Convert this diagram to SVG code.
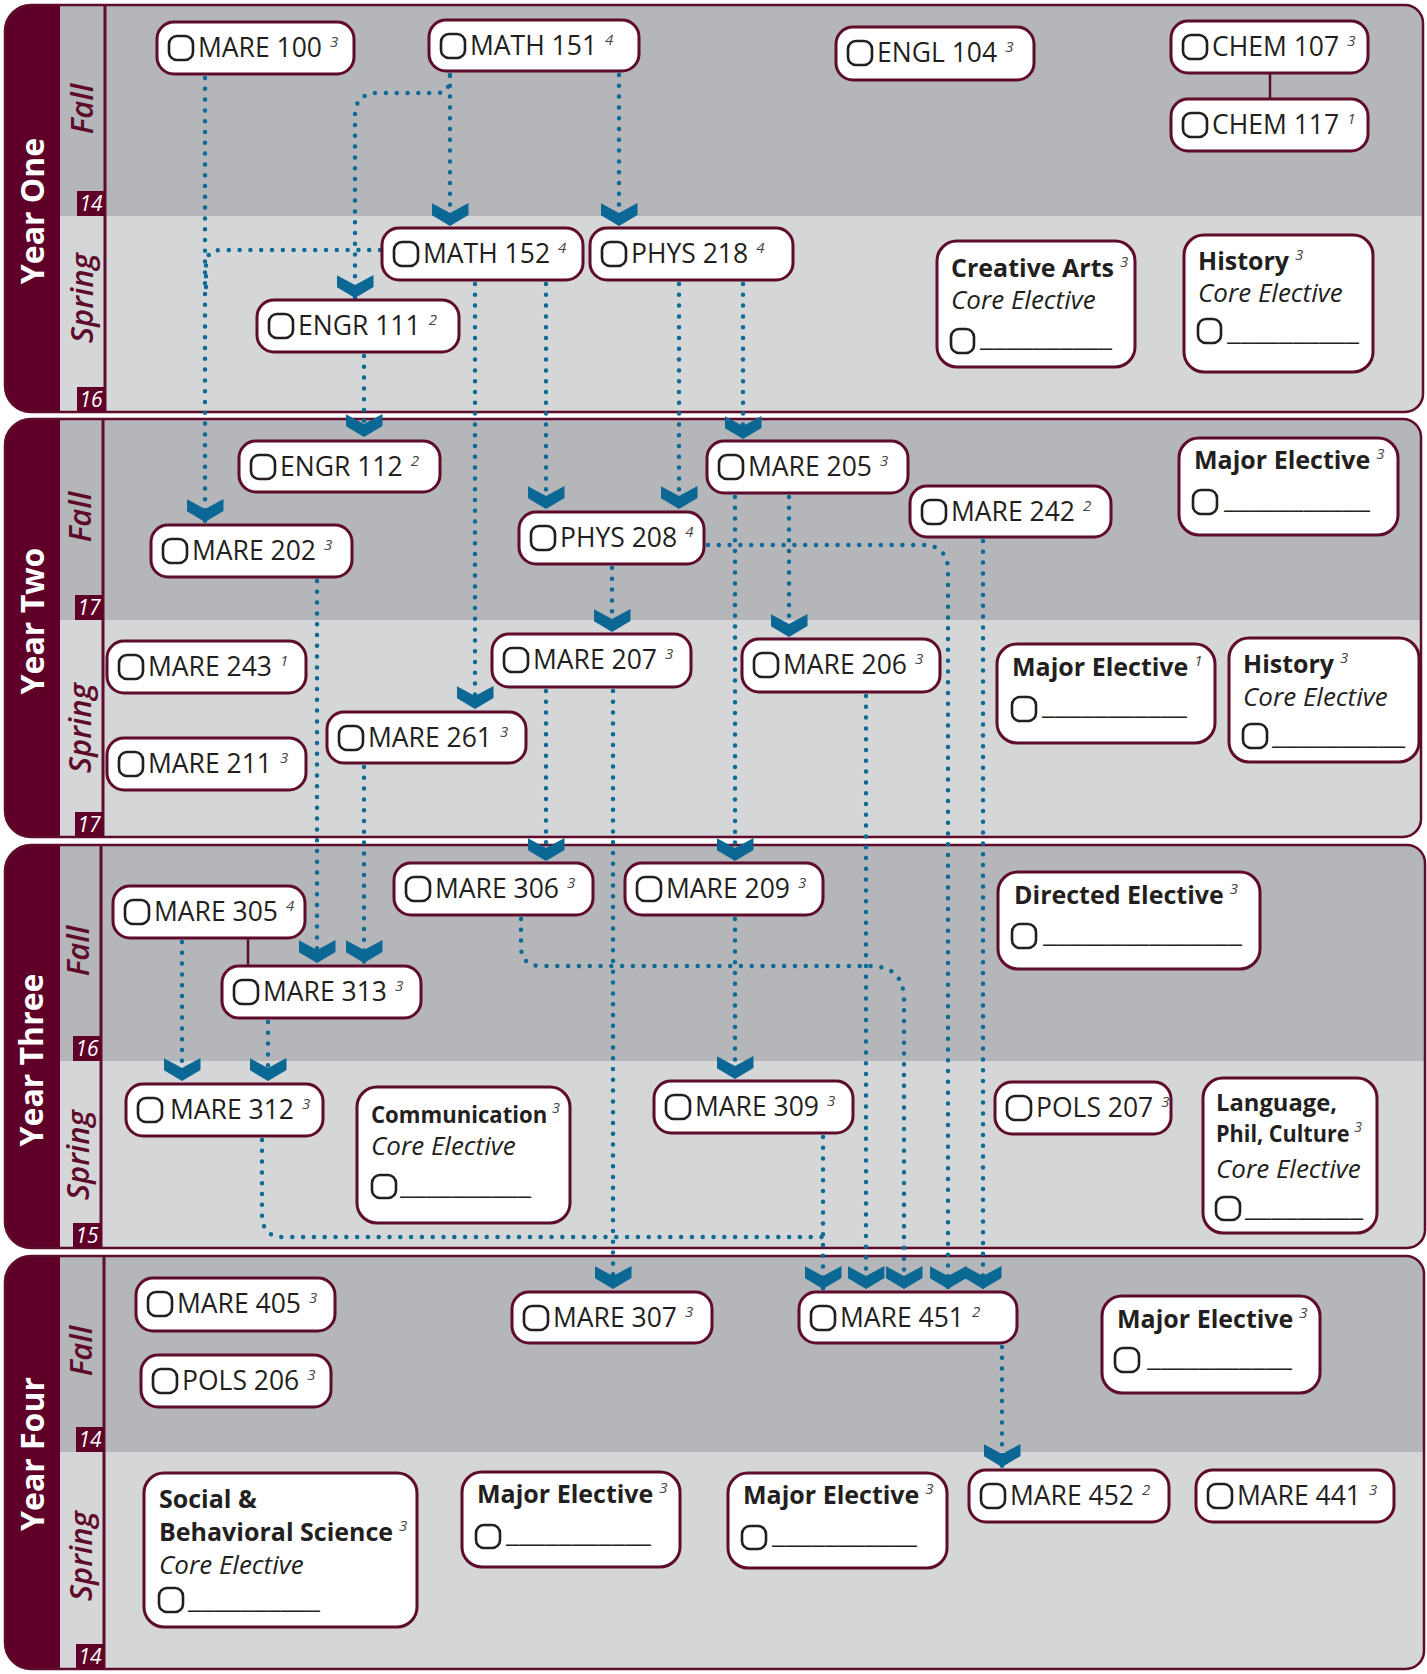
<svg xmlns="http://www.w3.org/2000/svg" width="1427" height="1674" viewBox="0 0 1427 1674">
<defs>
<style>
text{font-family:"Open Sans","Noto Sans","DejaVu Sans",sans-serif;fill:#231f20}
.fall{fill:#b5b6ba}
.spring{fill:#d5d6d8}
.band{fill:#5e0027}
.outline{fill:none;stroke:#5f0b2b;stroke-width:2.5}
.divider{fill:none;stroke:#5f0b2b;stroke-width:3}
.year{font-size:32px;font-weight:bold;fill:#fff}
.season{font-size:31px;font-weight:600;font-style:italic;fill:#5e0a2a}
.crbox{fill:#5e0027}
.cr{font-size:21px;font-style:italic;fill:#fff}
.box{fill:#fff;stroke:#5f0b2b;stroke-width:3}
.chk{fill:none;stroke:#231f20;stroke-width:2.6}
.lbl{font-size:26.5px}
.sup{font-size:15px;font-style:italic;font-weight:normal;fill:#444}
.ttl{font-size:25px;font-weight:bold}
.cnd{font-size:23px;font-weight:bold}
.core{font-size:26px;font-style:italic}
.ul{font-size:26px}
.dot{fill:none;stroke:#0d6a95;stroke-width:4.5;stroke-linecap:round;stroke-dasharray:0 10.8}
.arr{marker-end:url(#chev)}
.solid{fill:none;stroke:#5f0b2b;stroke-width:2.5}
</style>
<marker id="chev" markerUnits="userSpaceOnUse" markerWidth="23" markerHeight="37" viewBox="0 0 23 37" refX="23" refY="18.5" orient="auto">
<path d="M0,0 L10,18.5 L0,37 L12,37 L23,18.5 L12,0 Z" fill="#0b6794"/>
</marker>
</defs>

<g id="panels">
<g id="year-one">
<path class="fall" d="M60,5 H1405 A18 18 0 0 1 1423,23 V216 H60 Z"/>
<path class="spring" d="M60,216 H1423 V394 A18 18 0 0 1 1405,412 H60 Z"/>
<path class="band" d="M31,5 H60 V412 H31 A26 26 0 0 1 5,386 V31 A26 26 0 0 1 31,5 Z"/>
<path class="outline" d="M31,5 H1405 A18 18 0 0 1 1423,23 V394 A18 18 0 0 1 1405,412 H31 A26 26 0 0 1 5,386 V31 A26 26 0 0 1 31,5 Z"/>
<path class="divider" d="M105,5 V412"/>
<text class="year" x="44" y="211" text-anchor="middle" transform="rotate(-90 44 211)">Year One</text>
<text class="season" x="93" y="109" text-anchor="middle" transform="rotate(-90 93 109)">Fall</text>
<text class="season" x="93" y="298" text-anchor="middle" transform="rotate(-90 93 298)">Spring</text>
<rect class="crbox" x="77" y="191" width="28" height="25"/>
<text class="cr" x="91" y="211" text-anchor="middle">14</text>
<rect class="crbox" x="77" y="387" width="28" height="25"/>
<text class="cr" x="91" y="407" text-anchor="middle">16</text>
</g>
<g id="year-two">
<path class="fall" d="M60,419 H1403 A18 18 0 0 1 1421,437 V620 H60 Z"/>
<path class="spring" d="M60,620 H1421 V819 A18 18 0 0 1 1403,837 H60 Z"/>
<path class="band" d="M31,419 H60 V837 H31 A26 26 0 0 1 5,811 V445 A26 26 0 0 1 31,419 Z"/>
<path class="outline" d="M31,419 H1403 A18 18 0 0 1 1421,437 V819 A18 18 0 0 1 1403,837 H31 A26 26 0 0 1 5,811 V445 A26 26 0 0 1 31,419 Z"/>
<path class="divider" d="M103,419 V837"/>
<text class="year" x="44" y="621" text-anchor="middle" transform="rotate(-90 44 621)">Year Two</text>
<text class="season" x="91" y="517" text-anchor="middle" transform="rotate(-90 91 517)">Fall</text>
<text class="season" x="91" y="728" text-anchor="middle" transform="rotate(-90 91 728)">Spring</text>
<rect class="crbox" x="75" y="595" width="28" height="25"/>
<text class="cr" x="89" y="615" text-anchor="middle">17</text>
<rect class="crbox" x="75" y="812" width="28" height="25"/>
<text class="cr" x="89" y="832" text-anchor="middle">17</text>
</g>
<g id="year-three">
<path class="fall" d="M60,845 H1407 A18 18 0 0 1 1425,863 V1061 H60 Z"/>
<path class="spring" d="M60,1061 H1425 V1230 A18 18 0 0 1 1407,1248 H60 Z"/>
<path class="band" d="M31,845 H60 V1248 H31 A26 26 0 0 1 5,1222 V871 A26 26 0 0 1 31,845 Z"/>
<path class="outline" d="M31,845 H1407 A18 18 0 0 1 1425,863 V1230 A18 18 0 0 1 1407,1248 H31 A26 26 0 0 1 5,1222 V871 A26 26 0 0 1 31,845 Z"/>
<path class="divider" d="M101,845 V1248"/>
<text class="year" x="43" y="1060" text-anchor="middle" transform="rotate(-90 43 1060)">Year Three</text>
<text class="season" x="89" y="951" text-anchor="middle" transform="rotate(-90 89 951)">Fall</text>
<text class="season" x="89" y="1155" text-anchor="middle" transform="rotate(-90 89 1155)">Spring</text>
<rect class="crbox" x="73" y="1036" width="28" height="25"/>
<text class="cr" x="87" y="1056" text-anchor="middle">16</text>
<rect class="crbox" x="73" y="1223" width="28" height="25"/>
<text class="cr" x="87" y="1243" text-anchor="middle">15</text>
</g>
<g id="year-four">
<path class="fall" d="M60,1256 H1406 A18 18 0 0 1 1424,1274 V1452 H60 Z"/>
<path class="spring" d="M60,1452 H1424 V1651 A18 18 0 0 1 1406,1669 H60 Z"/>
<path class="band" d="M31,1256 H60 V1669 H31 A26 26 0 0 1 5,1643 V1282 A26 26 0 0 1 31,1256 Z"/>
<path class="outline" d="M31,1256 H1406 A18 18 0 0 1 1424,1274 V1651 A18 18 0 0 1 1406,1669 H31 A26 26 0 0 1 5,1643 V1282 A26 26 0 0 1 31,1256 Z"/>
<path class="divider" d="M104,1256 V1669"/>
<text class="year" x="44" y="1454" text-anchor="middle" transform="rotate(-90 44 1454)">Year Four</text>
<text class="season" x="92" y="1351" text-anchor="middle" transform="rotate(-90 92 1351)">Fall</text>
<text class="season" x="92" y="1556" text-anchor="middle" transform="rotate(-90 92 1556)">Spring</text>
<rect class="crbox" x="76" y="1427" width="28" height="25"/>
<text class="cr" x="90" y="1447" text-anchor="middle">14</text>
<rect class="crbox" x="76" y="1644" width="28" height="25"/>
<text class="cr" x="90" y="1664" text-anchor="middle">14</text>
</g>
</g>

<g id="connectors">
<path class="dot arr" d="M205,78 V522"/>
<path class="dot arr" d="M450,75 V226"/>
<path class="dot arr" d="M450,76 Q450,93 438,93 H378 Q355,93 355,116 V298"/>
<path class="dot arr" d="M619,75 V226"/>
<path class="dot" d="M380,250 H221 Q206,250 206,265 V290"/>
<path class="dot arr" d="M364,356 V437"/>
<path class="dot arr" d="M475,284 V709"/>
<path class="dot arr" d="M546,284 V509"/>
<path class="dot arr" d="M679,284 V509"/>
<path class="dot arr" d="M743,284 V439"/>
<path class="dot arr" d="M317,581 V963"/>
<path class="dot arr" d="M612,568 V632"/>
<path class="dot arr" d="M789,497 V637"/>
<path class="dot arr" d="M708,545 H922 Q948,545 948,571 V1289"/>
<path class="dot arr" d="M735,497 V861"/>
<path class="dot arr" d="M983,541 V1289"/>
<path class="dot arr" d="M546,691 V861"/>
<path class="dot arr" d="M613,691 V1289"/>
<path class="dot arr" d="M866,696 V1289"/>
<path class="dot arr" d="M364,767 V963"/>
<path class="dot arr" d="M182,942 V1081"/>
<path class="dot arr" d="M268,1022 V1081"/>
<path class="dot arr" d="M521,919 V946 Q521,966 541,966 H870 Q904,966 904,1000 V1289"/>
<path class="dot arr" d="M735,919 V1079"/>
<path class="dot" d="M262,1140 V1215 Q262,1237 284,1237 H823"/>
<path class="dot arr" d="M823,1137 V1289"/>
<path class="dot arr" d="M1002,1347 V1467"/>
<path class="solid" d="M1270,73 V99"/>
<path class="solid" d="M248,938 V966"/>
</g>

<g id="nodes">
<g id="mare100"><rect class="box" x="157" y="22" width="197" height="52" rx="17"/><rect class="chk" x="169" y="36" width="24" height="24" rx="8"/><text class="lbl" x="198" y="57">MARE 100<tspan class="sup" dx="8" dy="-10">3</tspan></text></g>
<g id="math151"><rect class="box" x="429" y="20" width="210" height="51" rx="17"/><rect class="chk" x="441" y="34" width="24" height="24" rx="8"/><text class="lbl" x="470" y="55">MATH 151<tspan class="sup" dx="8" dy="-10">4</tspan></text></g>
<g id="engl104"><rect class="box" x="836" y="27" width="198" height="53" rx="17"/><rect class="chk" x="848" y="41" width="24" height="24" rx="8"/><text class="lbl" x="877" y="62">ENGL 104<tspan class="sup" dx="8" dy="-10">3</tspan></text></g>
<g id="chem107"><rect class="box" x="1171" y="21" width="197" height="52" rx="17"/><rect class="chk" x="1183" y="35" width="24" height="24" rx="8"/><text class="lbl" x="1212" y="56">CHEM 107<tspan class="sup" dx="8" dy="-10">3</tspan></text></g>
<g id="chem117"><rect class="box" x="1171" y="99" width="197" height="52" rx="17"/><rect class="chk" x="1183" y="113" width="24" height="24" rx="8"/><text class="lbl" x="1212" y="134">CHEM 117<tspan class="sup" dx="8" dy="-10">1</tspan></text></g>
<g id="math152"><rect class="box" x="382" y="228" width="201" height="52" rx="17"/><rect class="chk" x="394" y="242" width="24" height="24" rx="8"/><text class="lbl" x="423" y="263">MATH 152<tspan class="sup" dx="8" dy="-10">4</tspan></text></g>
<g id="phys218"><rect class="box" x="590" y="228" width="203" height="52" rx="17"/><rect class="chk" x="602" y="242" width="24" height="24" rx="8"/><text class="lbl" x="631" y="263">PHYS 218<tspan class="sup" dx="8" dy="-10">4</tspan></text></g>
<g id="engr111"><rect class="box" x="257" y="300" width="202" height="52" rx="17"/><rect class="chk" x="269" y="314" width="24" height="24" rx="8"/><text class="lbl" x="298" y="335">ENGR 111<tspan class="sup" dx="8" dy="-10">2</tspan></text></g>
<g id="creative-arts"><rect class="box" x="937" y="241" width="198" height="126" rx="20"/><text class="ttl" x="951" y="277">Creative Arts<tspan class="sup" dx="6" dy="-10">3</tspan></text><text class="core" x="951" y="309">Core Elective</text><rect class="chk" x="951" y="329" width="23" height="24" rx="8"/><text class="ul" x="980" y="346" textLength="132" lengthAdjust="spacingAndGlyphs">__________</text></g>
<g id="history-1"><rect class="box" x="1184" y="235" width="189" height="137" rx="20"/><text class="ttl" x="1198" y="270">History<tspan class="sup" dx="6" dy="-10">3</tspan></text><text class="core" x="1198" y="302">Core Elective</text><rect class="chk" x="1198" y="319" width="23" height="24" rx="8"/><text class="ul" x="1227" y="340" textLength="132" lengthAdjust="spacingAndGlyphs">__________</text></g>

<g id="engr112"><rect class="box" x="239" y="441" width="201" height="51" rx="17"/><rect class="chk" x="251" y="455" width="24" height="24" rx="8"/><text class="lbl" x="280" y="476">ENGR 112<tspan class="sup" dx="8" dy="-10">2</tspan></text></g>
<g id="mare202"><rect class="box" x="151" y="525" width="201" height="52" rx="17"/><rect class="chk" x="163" y="539" width="24" height="24" rx="8"/><text class="lbl" x="192" y="560">MARE 202<tspan class="sup" dx="8" dy="-10">3</tspan></text></g>
<g id="phys208"><rect class="box" x="519" y="512" width="185" height="52" rx="17"/><rect class="chk" x="531" y="526" width="24" height="24" rx="8"/><text class="lbl" x="560" y="547">PHYS 208<tspan class="sup" dx="8" dy="-10">4</tspan></text></g>
<g id="mare205"><rect class="box" x="707" y="441" width="201" height="52" rx="17"/><rect class="chk" x="719" y="455" width="24" height="24" rx="8"/><text class="lbl" x="748" y="476">MARE 205<tspan class="sup" dx="8" dy="-10">3</tspan></text></g>
<g id="mare242"><rect class="box" x="910" y="486" width="201" height="51" rx="17"/><rect class="chk" x="922" y="500" width="24" height="24" rx="8"/><text class="lbl" x="951" y="521">MARE 242<tspan class="sup" dx="8" dy="-10">2</tspan></text></g>
<g id="major-elective-2f"><rect class="box" x="1179" y="438" width="219" height="97" rx="20"/><text class="ttl" x="1194" y="469">Major Elective<tspan class="sup" dx="6" dy="-10">3</tspan></text><rect class="chk" x="1193" y="490" width="24" height="24" rx="8"/><text class="ul" x="1224" y="508" textLength="146" lengthAdjust="spacingAndGlyphs">___________</text></g>
<g id="mare243"><rect class="box" x="107" y="641" width="199" height="52" rx="17"/><rect class="chk" x="119" y="655" width="24" height="24" rx="8"/><text class="lbl" x="148" y="676">MARE 243<tspan class="sup" dx="8" dy="-10">1</tspan></text></g>
<g id="mare211"><rect class="box" x="107" y="738" width="199" height="52" rx="17"/><rect class="chk" x="119" y="752" width="24" height="24" rx="8"/><text class="lbl" x="148" y="773">MARE 211<tspan class="sup" dx="8" dy="-10">3</tspan></text></g>
<g id="mare207"><rect class="box" x="492" y="634" width="199" height="53" rx="17"/><rect class="chk" x="504" y="648" width="24" height="24" rx="8"/><text class="lbl" x="533" y="669">MARE 207<tspan class="sup" dx="8" dy="-10">3</tspan></text></g>
<g id="mare261"><rect class="box" x="327" y="712" width="199" height="51" rx="17"/><rect class="chk" x="339" y="726" width="24" height="24" rx="8"/><text class="lbl" x="368" y="747">MARE 261<tspan class="sup" dx="8" dy="-10">3</tspan></text></g>
<g id="mare206"><rect class="box" x="742" y="639" width="198" height="53" rx="17"/><rect class="chk" x="754" y="653" width="24" height="24" rx="8"/><text class="lbl" x="783" y="674">MARE 206<tspan class="sup" dx="8" dy="-10">3</tspan></text></g>
<g id="major-elective-2s"><rect class="box" x="997" y="644" width="218" height="99" rx="20"/><text class="ttl" x="1012" y="676">Major Elective<tspan class="sup" dx="6" dy="-10">1</tspan></text><rect class="chk" x="1012" y="697" width="24" height="24" rx="8"/><text class="ul" x="1042" y="714" textLength="145" lengthAdjust="spacingAndGlyphs">___________</text></g>
<g id="history-2"><rect class="box" x="1229" y="638" width="190" height="124" rx="20"/><text class="ttl" x="1243" y="673">History<tspan class="sup" dx="6" dy="-10">3</tspan></text><text class="core" x="1243" y="706">Core Elective</text><rect class="chk" x="1243" y="724" width="24" height="24" rx="8"/><text class="ul" x="1272" y="744" textLength="133" lengthAdjust="spacingAndGlyphs">__________</text></g>

<g id="mare305"><rect class="box" x="113" y="886" width="192" height="52" rx="17"/><rect class="chk" x="125" y="900" width="24" height="24" rx="8"/><text class="lbl" x="154" y="921">MARE 305<tspan class="sup" dx="8" dy="-10">4</tspan></text></g>
<g id="mare313"><rect class="box" x="222" y="966" width="199" height="52" rx="17"/><rect class="chk" x="234" y="980" width="24" height="24" rx="8"/><text class="lbl" x="263" y="1001">MARE 313<tspan class="sup" dx="8" dy="-10">3</tspan></text></g>
<g id="mare306"><rect class="box" x="394" y="863" width="199" height="52" rx="17"/><rect class="chk" x="406" y="877" width="24" height="24" rx="8"/><text class="lbl" x="435" y="898">MARE 306<tspan class="sup" dx="8" dy="-10">3</tspan></text></g>
<g id="mare209"><rect class="box" x="625" y="863" width="198" height="52" rx="17"/><rect class="chk" x="637" y="877" width="24" height="24" rx="8"/><text class="lbl" x="666" y="898">MARE 209<tspan class="sup" dx="8" dy="-10">3</tspan></text></g>
<g id="directed-elective"><rect class="box" x="998" y="872" width="262" height="97" rx="20"/><text class="ttl" x="1014" y="904">Directed Elective<tspan class="sup" dx="6" dy="-10">3</tspan></text><rect class="chk" x="1012" y="924" width="24" height="24" rx="8"/><text class="ul" x="1043" y="942" textLength="199" lengthAdjust="spacingAndGlyphs">_______________</text></g>
<g id="mare312"><rect class="box" x="126" y="1084" width="197" height="52" rx="17"/><rect class="chk" x="138" y="1098" width="24" height="24" rx="8"/><text class="lbl" x="170" y="1119">MARE 312<tspan class="sup" dx="8" dy="-10">3</tspan></text></g>
<g id="communication"><rect class="box" x="357" y="1087" width="213" height="136" rx="20"/><text class="cnd" x="371" y="1123" textLength="189" lengthAdjust="spacingAndGlyphs">Communication<tspan class="sup" dx="5" dy="-10">3</tspan></text><text class="core" x="371" y="1155">Core Elective</text><rect class="chk" x="372" y="1175" width="24" height="23" rx="8"/><text class="ul" x="400" y="1194" textLength="131" lengthAdjust="spacingAndGlyphs">__________</text></g>
<g id="mare309"><rect class="box" x="654" y="1081" width="199" height="52" rx="17"/><rect class="chk" x="666" y="1095" width="24" height="24" rx="8"/><text class="lbl" x="695" y="1116">MARE 309<tspan class="sup" dx="8" dy="-10">3</tspan></text></g>
<g id="pols207"><rect class="box" x="995" y="1082" width="176" height="52" rx="17"/><rect class="chk" x="1007" y="1096" width="24" height="24" rx="8"/><text class="lbl" x="1036" y="1117">POLS 207<tspan class="sup" dx="8" dy="-10">3</tspan></text></g>
<g id="language"><rect class="box" x="1203" y="1078" width="174" height="155" rx="20"/><text class="cnd" x="1216" y="1111" textLength="121" lengthAdjust="spacingAndGlyphs">Language,</text><text class="cnd" x="1216" y="1142" textLength="146" lengthAdjust="spacingAndGlyphs">Phil, Culture<tspan class="sup" dx="5" dy="-10">3</tspan></text><text class="core" x="1216" y="1178">Core Elective</text><rect class="chk" x="1216" y="1197" width="24" height="23" rx="8"/><text class="ul" x="1245" y="1216" textLength="118" lengthAdjust="spacingAndGlyphs">_________</text></g>

<g id="mare405"><rect class="box" x="136" y="1278" width="199" height="53" rx="17"/><rect class="chk" x="148" y="1292" width="24" height="24" rx="8"/><text class="lbl" x="177" y="1313">MARE 405<tspan class="sup" dx="8" dy="-10">3</tspan></text></g>
<g id="pols206"><rect class="box" x="141" y="1355" width="190" height="52" rx="17"/><rect class="chk" x="153" y="1369" width="24" height="24" rx="8"/><text class="lbl" x="182" y="1390">POLS 206<tspan class="sup" dx="8" dy="-10">3</tspan></text></g>
<g id="mare307"><rect class="box" x="512" y="1292" width="200" height="51" rx="17"/><rect class="chk" x="524" y="1306" width="24" height="24" rx="8"/><text class="lbl" x="553" y="1327">MARE 307<tspan class="sup" dx="8" dy="-10">3</tspan></text></g>
<g id="mare451"><rect class="box" x="799" y="1292" width="218" height="51" rx="17"/><rect class="chk" x="811" y="1306" width="24" height="24" rx="8"/><text class="lbl" x="840" y="1327">MARE 451<tspan class="sup" dx="8" dy="-10">2</tspan></text></g>
<g id="major-elective-4f"><rect class="box" x="1102" y="1296" width="218" height="97" rx="20"/><text class="ttl" x="1117" y="1328">Major Elective<tspan class="sup" dx="6" dy="-10">3</tspan></text><rect class="chk" x="1115" y="1348" width="24" height="24" rx="8"/><text class="ul" x="1147" y="1366" textLength="145" lengthAdjust="spacingAndGlyphs">___________</text></g>
<g id="social-behavioral"><rect class="box" x="144" y="1473" width="273" height="154" rx="20"/><text class="ttl" x="159" y="1508">Social &amp;</text><text class="ttl" x="159" y="1541">Behavioral Science<tspan class="sup" dx="6" dy="-10">3</tspan></text><text class="core" x="159" y="1574">Core Elective</text><rect class="chk" x="159" y="1588" width="24" height="24" rx="8"/><text class="ul" x="188" y="1608" textLength="132" lengthAdjust="spacingAndGlyphs">__________</text></g>
<g id="major-elective-4s1"><rect class="box" x="462" y="1472" width="218" height="95" rx="20"/><text class="ttl" x="477" y="1503">Major Elective<tspan class="sup" dx="6" dy="-10">3</tspan></text><rect class="chk" x="476" y="1525" width="24" height="23" rx="8"/><text class="ul" x="506" y="1542" textLength="145" lengthAdjust="spacingAndGlyphs">___________</text></g>
<g id="major-elective-4s2"><rect class="box" x="728" y="1473" width="219" height="95" rx="20"/><text class="ttl" x="743" y="1504">Major Elective<tspan class="sup" dx="6" dy="-10">3</tspan></text><rect class="chk" x="742" y="1526" width="24" height="23" rx="8"/><text class="ul" x="772" y="1543" textLength="145" lengthAdjust="spacingAndGlyphs">___________</text></g>
<g id="mare452"><rect class="box" x="969" y="1470" width="200" height="52" rx="17"/><rect class="chk" x="981" y="1484" width="24" height="24" rx="8"/><text class="lbl" x="1010" y="1505">MARE 452<tspan class="sup" dx="8" dy="-10">2</tspan></text></g>
<g id="mare441"><rect class="box" x="1196" y="1470" width="198" height="52" rx="17"/><rect class="chk" x="1208" y="1484" width="24" height="24" rx="8"/><text class="lbl" x="1237" y="1505">MARE 441<tspan class="sup" dx="8" dy="-10">3</tspan></text></g>
</g>
</svg>
